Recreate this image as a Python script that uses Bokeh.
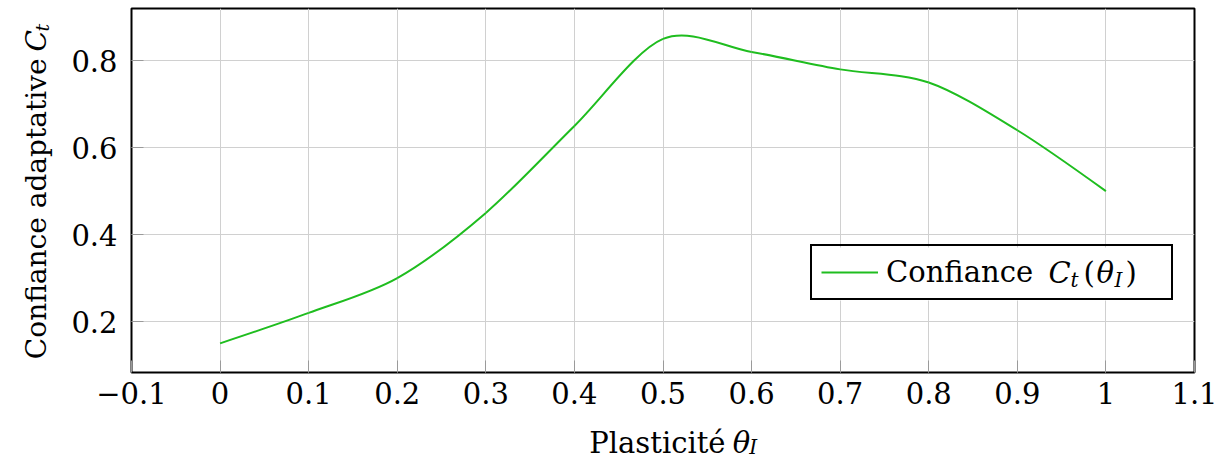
import numpy as np
from bokeh.plotting import figure
from bokeh.layouts import row, column
from bokeh.models import Legend, LegendItem, LinearAxis, FixedTicker, Range1d
from bokeh.core.properties import value
from bokeh.embed import file_html
from bokeh.resources import INLINE

# ---------------- data ----------------
theta = [0.0, 0.1, 0.2, 0.3, 0.4, 0.5, 0.6, 0.7, 0.8, 0.9, 1.0]
confiance = [0.15, 0.22, 0.30, 0.45, 0.65, 0.85, 0.82, 0.78, 0.75, 0.64, 0.50]

x_ticks = [-0.1, 0.0, 0.1, 0.2, 0.3, 0.4, 0.5, 0.6, 0.7, 0.8, 0.9, 1.0, 1.1]
x_tick_labels = ["\u22120.1", "0", "0.1", "0.2", "0.3", "0.4", "0.5", "0.6",
                 "0.7", "0.8", "0.9", "1", "1.1"]
y_ticks = [0.2, 0.4, 0.6, 0.8]
y_tick_labels = ["0.2", "0.4", "0.6", "0.8"]

x_label = "Plasticit\u00e9"
y_label = "Confiance adaptative"
legend_label = "Confiance"

# ---------------- style ----------------
FONT = "DejaVu Serif"
FS = "29px"
SUB_FS = "20px"
YT_FS = "28px"
YT_SUB_FS = "19px"
GREEN = "#1fbd1f"
GRID = "#d0d0d0"
TICK = "#9a9a9a"

X0, X1 = -0.1, 1.1
Y0, Y1 = 0.083, 0.92

LEFT_W = 60          # strip holding the y-axis title
MAIN_W = 1165
MAIN_H = 415
BOTTOM_H = 44        # strip holding the x-axis title
BL, BR, BT, BB = 71, 31, 8, 43   # main figure borders

p = figure(width=MAIN_W, height=MAIN_H, x_range=Range1d(X0, X1), y_range=Range1d(Y0, Y1),
           output_backend="svg", toolbar_location=None, title=None,
           min_border_left=BL, min_border_right=BR, min_border_top=BT, min_border_bottom=BB,
           x_axis_location=None, y_axis_location=None)
p.background_fill_color = "white"
p.border_fill_color = "white"
p.outline_line_color = "black"
p.outline_line_width = 2

FRAME_L = LEFT_W + BL                 # window x of frame left (131)
FRAME_B = MAIN_H - BB                 # window y of frame bottom (372)
FRAME_W = MAIN_W - BL - BR
FRAME_H = MAIN_H - BT - BB


def dx(wx):
    return X0 + (wx - FRAME_L) * (X1 - X0) / FRAME_W


def dy(wy):
    return Y0 + (FRAME_B - wy) * (Y1 - Y0) / FRAME_H


def make_axis(ticks, labels):
    ax = LinearAxis(ticker=FixedTicker(ticks=ticks))
    ax.major_label_overrides = dict(zip(ticks, labels))
    ax.axis_line_color = None
    ax.major_tick_in = 12
    ax.major_tick_out = 0
    ax.major_tick_line_color = TICK
    ax.major_tick_line_width = 1
    ax.minor_tick_line_color = None
    ax.major_label_text_font = FONT
    ax.major_label_text_font_size = FS
    ax.major_label_text_color = "black"
    return ax


xb = make_axis(x_ticks, x_tick_labels)
xb.major_label_standoff = 9
yl = make_axis(y_ticks, y_tick_labels)
yl.major_label_standoff = 14
p.add_layout(xb, "below")
p.add_layout(yl, "left")

p.xgrid.ticker = FixedTicker(ticks=x_ticks)
p.ygrid.ticker = FixedTicker(ticks=y_ticks)
p.xgrid.grid_line_color = GRID
p.ygrid.grid_line_color = GRID
p.xgrid.grid_line_width = 1
p.ygrid.grid_line_width = 1

# legend background (white, hides the grid behind the legend box)
LEG_L, LEG_R, LEG_T, LEG_B = 810, 1172, 247, 300
p.quad(left=[dx(LEG_L)], right=[dx(LEG_R)], top=[dy(LEG_T)], bottom=[dy(LEG_B)],
       fill_color="white", line_color=None)

# ---------------- smooth curve (pgfplots-style tension 0.55) ----------------
xs = np.array(theta)
ys = np.array(confiance)
k = 0.55 * 0.2775
cx0 = xs[:-1].copy(); cy0 = ys[:-1].copy()
cx0[1:] = xs[1:-1] + k * (xs[2:] - xs[:-2])
cy0[1:] = ys[1:-1] + k * (ys[2:] - ys[:-2])
cx1 = xs[1:].copy(); cy1 = ys[1:].copy()
cx1[:-1] = xs[1:-1] - k * (xs[2:] - xs[:-2])
cy1[:-1] = ys[1:-1] - k * (ys[2:] - ys[:-2])
curve = p.bezier(x0=xs[:-1], y0=ys[:-1], x1=xs[1:], y1=ys[1:],
                 cx0=cx0, cy0=cy0, cx1=cx1, cy1=cy1,
                 line_color=GREEN, line_width=2)


def txt(fig, x, y, s, size=FS, style="normal", angle=0.0, baseline="alphabetic",
        align="left"):
    fig.text(x=[x], y=[y], text=[s], text_font=value(FONT), text_font_size=value(size),
             text_font_style=style, text_color="black", text_align=align,
             text_baseline=baseline, angle=angle)


# legend math part: C_t(theta_I)
LMID = 272
txt(p, dx(1048), dy(LMID), "C", style="italic", baseline="middle")
txt(p, dx(1070), dy(LMID + 7), "t", size=SUB_FS, style="italic", baseline="middle")
txt(p, dx(1083), dy(LMID), "(", baseline="middle")
txt(p, dx(1096), dy(LMID), "\u03b8", style="italic", baseline="middle")
txt(p, dx(1114), dy(LMID + 7), "I", size=SUB_FS, style="italic", baseline="middle")
txt(p, dx(1125), dy(LMID), ")", baseline="middle")

# ---------------- legend ----------------
legend = Legend(items=[LegendItem(label=legend_label, renderers=[curve])],
                location=(LEG_L - FRAME_L, FRAME_B - LEG_B), margin=0, padding=9,
                glyph_width=57, glyph_height=30, label_standoff=8,
                label_width=276, label_height=30,
                border_line_color="black", border_line_width=2, border_line_alpha=1.0,
                background_fill_alpha=0.0,
                label_text_font=FONT, label_text_font_size=FS,
                label_text_color="black")
p.add_layout(legend)


def strip(w, h, xr, yr):
    f = figure(width=w, height=h, x_range=Range1d(*xr), y_range=Range1d(*yr),
               output_backend="svg", toolbar_location=None, title=None, min_border=0,
               x_axis_location=None, y_axis_location=None)
    f.outline_line_color = None
    f.grid.visible = False
    f.background_fill_color = "white"
    f.border_fill_color = "white"
    return f


TOTAL_H = MAIN_H + BOTTOM_H
# y-axis title strip: coordinates are window pixels (y downward)
ys_fig = strip(LEFT_W, TOTAL_H, (0, LEFT_W), (TOTAL_H, 0))
ang = np.pi / 2
txt(ys_fig, 36, 58, y_label, size=YT_FS, angle=ang, align="right")
txt(ys_fig, 36, 51, "C", size=YT_FS, style="italic", angle=ang)
txt(ys_fig, 41, 31, "t", size=YT_SUB_FS, style="italic", angle=ang)

# x-axis title strip
xs_fig = strip(MAIN_W, BOTTOM_H, (LEFT_W, LEFT_W + MAIN_W), (TOTAL_H, MAIN_H))
txt(xs_fig, 711, 442, x_label, align="right")
txt(xs_fig, 719, 442, "\u03b8", style="italic")
txt(xs_fig, 737, 446, "I", size=SUB_FS, style="italic")

layout = row(ys_fig, column(p, xs_fig, spacing=0), spacing=0)
open("out.html", "w").write(file_html(layout, INLINE))
